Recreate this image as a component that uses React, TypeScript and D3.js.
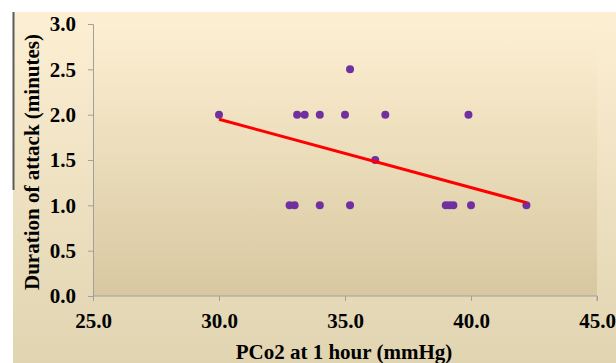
import { useRef, useEffect } from "react";
import * as d3 from "d3";

// PCo2 at 1 hour (mmHg) vs duration of attack (minutes)
const pco2 = [
  30.0, 33.1, 33.4, 34.0, 35.0, 36.6, 39.9,
  35.2, 36.2,
  32.8, 33.0, 34.0, 35.2, 39.0, 39.15, 39.3, 40.0, 42.2,
];
const duration = [
  2.0, 2.0, 2.0, 2.0, 2.0, 2.0, 2.0,
  2.5, 1.5,
  1.0, 1.0, 1.0, 1.0, 1.0, 1.0, 1.0, 1.0, 1.0,
];
const trendX = [30.0, 42.2];
const trendY = [1.95, 1.03];
const xTicks = [25, 30, 35, 40, 45];
const yTicks = [0, 0.5, 1, 1.5, 2, 2.5, 3];

const W = 616;
const H = 363;
const margin = { top: 24, right: 19, bottom: 67, left: 93 };
const font = "'Liberation Serif', 'Times New Roman', serif";
const fs = 21;

export default function App() {
  const svgRef = useRef<SVGSVGElement>(null);

  useEffect(() => {
    if (!svgRef.current) return;
    const svg = d3.select(svgRef.current);
    svg.selectAll("*").remove();

    const innerW = W - margin.left - margin.right;
    const innerH = H - margin.top - margin.bottom;

    const defs = svg.append("defs");
    const outerGrad = defs
      .append("linearGradient")
      .attr("id", "outerBg")
      .attr("x1", 0).attr("y1", 0).attr("x2", 0).attr("y2", 1);
    outerGrad.append("stop").attr("offset", "0%").attr("stop-color", "#fdefd3");
    outerGrad.append("stop").attr("offset", "100%").attr("stop-color", "#e0d4b1");

    const plotGrad = defs
      .append("linearGradient")
      .attr("id", "plotBg")
      .attr("x1", 0).attr("y1", 0).attr("x2", 0).attr("y2", 1);
    plotGrad.append("stop").attr("offset", "0%").attr("stop-color", "#fdefd2");
    plotGrad.append("stop").attr("offset", "100%").attr("stop-color", "#d8c8a1");

    // chart background
    svg.append("rect")
      .attr("x", 13).attr("y", 12)
      .attr("width", W - 13).attr("height", H - 12)
      .attr("fill", "url(#outerBg)");
    svg.append("line")
      .attr("x1", 13.5).attr("x2", 13.5)
      .attr("y1", 12).attr("y2", 190)
      .attr("stroke", "#5a5a5a").attr("stroke-width", 2);

    const g = svg.append("g")
      .attr("transform", `translate(${margin.left},${margin.top})`);

    g.append("rect")
      .attr("width", innerW).attr("height", innerH)
      .attr("fill", "url(#plotBg)");

    const x = d3.scaleLinear().domain([25, 45]).range([0, innerW]);
    const y = d3.scaleLinear().domain([0, 3]).range([innerH, 0]);

    // Y axis
    g.append("g")
      .call(d3.axisLeft(y).tickValues(yTicks).tickSize(5).tickPadding(12)
        .tickFormat((d) => d3.format(".1f")(d as number)))
      .call((a) => a.select(".domain").attr("stroke", "#a0a0a0").attr("d", `M-5,0.5H0.5V${innerH}`))
      .call((a) => a.selectAll(".tick line").attr("stroke", "#a0a0a0"))
      .call((a) => a.selectAll(".tick text")
        .attr("font-family", font).attr("font-weight", "bold")
        .attr("font-size", fs).attr("fill", "#000"));

    // X axis
    g.append("g")
      .attr("transform", `translate(0,${innerH})`)
      .call(d3.axisBottom(x).tickValues(xTicks).tickSize(5).tickPadding(12)
        .tickFormat((d) => d3.format(".1f")(d as number)))
      .call((a) => a.select(".domain").attr("stroke", "#a0a0a0").attr("d", `M0.5,0H${innerW}V5`))
      .call((a) => a.selectAll(".tick line").attr("stroke", "#a0a0a0"))
      .call((a) => a.selectAll(".tick text")
        .attr("font-family", font).attr("font-weight", "bold")
        .attr("font-size", fs).attr("fill", "#000"));

    // points
    g.selectAll("circle.pt")
      .data(pco2)
      .join("circle")
      .attr("class", "pt")
      .attr("cx", (d) => x(d))
      .attr("cy", (_, i) => y(duration[i]))
      .attr("r", 4)
      .attr("fill", "#7030a0");

    // trend line
    const line = d3.line<number>()
      .x((d) => x(d))
      .y((_, i) => y(trendY[i]));
    g.append("path")
      .datum(trendX)
      .attr("d", line)
      .attr("fill", "none")
      .attr("stroke", "#ff0000")
      .attr("stroke-width", 3);

    // titles
    svg.append("text")
      .attr("x", margin.left + innerW / 2 - 1)
      .attr("y", 359)
      .attr("text-anchor", "middle")
      .attr("font-family", font).attr("font-weight", "bold")
      .attr("font-size", fs).attr("fill", "#000")
      .text("PCo2 at 1 hour (mmHg)");

    svg.append("text")
      .attr("transform", `translate(39,${margin.top + innerH / 2 + 2}) rotate(-90)`)
      .attr("text-anchor", "middle")
      .attr("font-family", font).attr("font-weight", "bold")
      .attr("font-size", fs).attr("fill", "#000")
      .text("Duration of attack (minutes)");
  }, []);

  return (
    <svg
      ref={svgRef}
      width={W}
      height={H}
      viewBox={`0 0 ${W} ${H}`}
      style={{ position: "absolute", left: 0, top: 0, display: "block" }}
    />
  );
}
